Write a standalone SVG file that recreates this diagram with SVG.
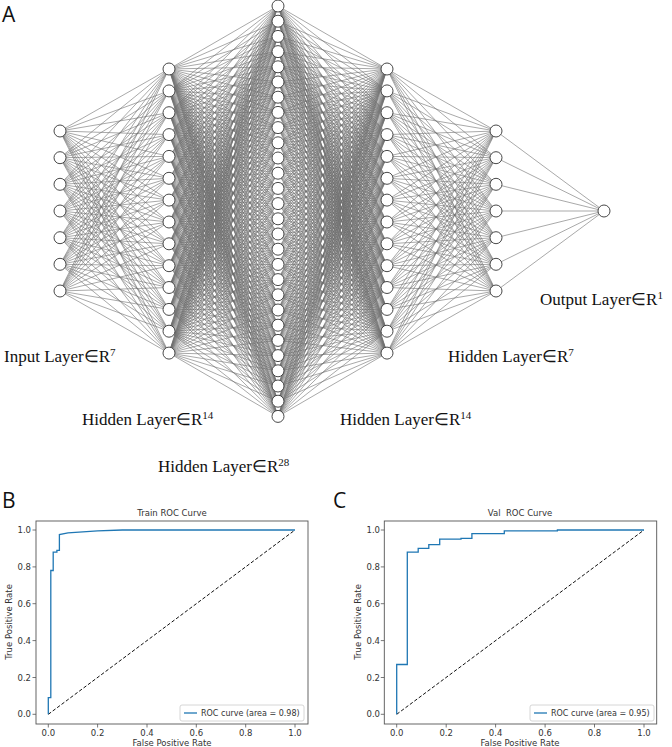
<svg xmlns="http://www.w3.org/2000/svg" xmlns:xlink="http://www.w3.org/1999/xlink" width="672" height="747" viewBox="0 0 672 747">
<style>
.e{fill:none;stroke:#6e6e6e;stroke-width:0.6;vector-effect:non-scaling-stroke}
.n circle{fill:#fff;stroke:#333;stroke-width:0.9}
.lbl{font-family:"Liberation Serif",serif;font-size:17px;fill:#111}
.sup{font-size:11px}
.pan{font-family:"Open Sans","DejaVu Sans",sans-serif;font-size:21px;fill:#111}
.ax{font-family:"DejaVu Sans",sans-serif;font-size:8.5px;fill:#333}
.lg{font-family:"DejaVu Sans",sans-serif;font-size:8px;fill:#333}
.frame{fill:none;stroke:#555;stroke-width:0.9}
.tk{stroke:#555;stroke-width:0.8}
.roc{fill:none;stroke:#1f77b4;stroke-width:1.3}
.diag{fill:none;stroke:#111;stroke-width:1;stroke-dasharray:3.5,2}
</style>
<defs>
<path id="fanA" class="e" d="M60 131L169 69M60 131L169 90.9M60 131L169 112.7M60 131L169 134.6M60 131L169 156.4M60 131L169 178.3M60 131L169 200.1M60 131L169 222M60 131L169 243.8M60 131L169 265.7M60 131L169 287.5M60 131L169 309.4M60 131L169 331.2M60 131L169 353.1"/>
<path id="fanB" class="e" d="M169 69L278 6M169 69L278 21.2M169 69L278 36.4M169 69L278 51.6M169 69L278 66.8M169 69L278 82M169 69L278 97.2M169 69L278 112.4M169 69L278 127.6M169 69L278 142.8M169 69L278 158M169 69L278 173.2M169 69L278 188.4M169 69L278 203.6M169 69L278 218.8M169 69L278 234M169 69L278 249.2M169 69L278 264.4M169 69L278 279.6M169 69L278 294.8M169 69L278 310M169 69L278 325.2M169 69L278 340.4M169 69L278 355.6M169 69L278 370.8M169 69L278 386M169 69L278 401.2M169 69L278 416.4"/>
</defs>
<g id="connectors">
<g id="leftHalf">
<use xlink:href="#fanA"/>
<use xlink:href="#fanA" transform="matrix(1,-0.24465,0,1,0,41.346)"/>
<use xlink:href="#fanA" transform="matrix(1,-0.4893,0,1,0,82.693)"/>
<use xlink:href="#fanA" transform="matrix(1,-0.73395,0,1,0,124.04)"/>
<use xlink:href="#fanA" transform="matrix(1,-0.9786,0,1,0,165.39)"/>
<use xlink:href="#fanA" transform="matrix(1,-1.22325,0,1,0,206.73)"/>
<use xlink:href="#fanA" transform="matrix(1,-1.4679,0,1,0,248.08)"/>
<use xlink:href="#fanB"/>
<use xlink:href="#fanB" transform="matrix(1,-0.20046,0,1,0,55.728)"/>
<use xlink:href="#fanB" transform="matrix(1,-0.40092,0,1,0,111.456)"/>
<use xlink:href="#fanB" transform="matrix(1,-0.60138,0,1,0,167.184)"/>
<use xlink:href="#fanB" transform="matrix(1,-0.80183,0,1,0,222.912)"/>
<use xlink:href="#fanB" transform="matrix(1,-1.00229,0,1,0,278.64)"/>
<use xlink:href="#fanB" transform="matrix(1,-1.20275,0,1,0,334.368)"/>
<use xlink:href="#fanB" transform="matrix(1,-1.40321,0,1,0,390.096)"/>
<use xlink:href="#fanB" transform="matrix(1,-1.60367,0,1,0,445.824)"/>
<use xlink:href="#fanB" transform="matrix(1,-1.80413,0,1,0,501.552)"/>
<use xlink:href="#fanB" transform="matrix(1,-2.00459,0,1,0,557.28)"/>
<use xlink:href="#fanB" transform="matrix(1,-2.20505,0,1,0,613.008)"/>
<use xlink:href="#fanB" transform="matrix(1,-2.40551,0,1,0,668.736)"/>
<use xlink:href="#fanB" transform="matrix(1,-2.60596,0,1,0,724.464)"/>
</g>
<use xlink:href="#leftHalf" transform="matrix(-1,0,0,1,556,0)"/>
<path class="e" d="M496 131L604 211M496 157.7L604 211M496 184.3L604 211M496 211L604 211M496 237.7L604 211M496 264.3L604 211M496 291L604 211"/>
</g>
<g id="input-layer" class="n">
<circle cx="60" cy="131" r="6"/><circle cx="60" cy="157.7" r="6"/><circle cx="60" cy="184.3" r="6"/><circle cx="60" cy="211" r="6"/><circle cx="60" cy="237.7" r="6"/><circle cx="60" cy="264.3" r="6"/><circle cx="60" cy="291" r="6"/>
</g>
<g id="hidden1" class="n">
<circle cx="169" cy="69" r="6"/><circle cx="169" cy="90.9" r="6"/><circle cx="169" cy="112.7" r="6"/><circle cx="169" cy="134.6" r="6"/><circle cx="169" cy="156.4" r="6"/><circle cx="169" cy="178.3" r="6"/><circle cx="169" cy="200.1" r="6"/><circle cx="169" cy="222" r="6"/><circle cx="169" cy="243.8" r="6"/><circle cx="169" cy="265.7" r="6"/><circle cx="169" cy="287.5" r="6"/><circle cx="169" cy="309.4" r="6"/><circle cx="169" cy="331.2" r="6"/><circle cx="169" cy="353.1" r="6"/>
</g>
<g id="hidden2" class="n">
<circle cx="278" cy="6" r="6"/><circle cx="278" cy="21.2" r="6"/><circle cx="278" cy="36.4" r="6"/><circle cx="278" cy="51.6" r="6"/><circle cx="278" cy="66.8" r="6"/><circle cx="278" cy="82" r="6"/><circle cx="278" cy="97.2" r="6"/><circle cx="278" cy="112.4" r="6"/><circle cx="278" cy="127.6" r="6"/><circle cx="278" cy="142.8" r="6"/><circle cx="278" cy="158" r="6"/><circle cx="278" cy="173.2" r="6"/><circle cx="278" cy="188.4" r="6"/><circle cx="278" cy="203.6" r="6"/><circle cx="278" cy="218.8" r="6"/><circle cx="278" cy="234" r="6"/><circle cx="278" cy="249.2" r="6"/><circle cx="278" cy="264.4" r="6"/><circle cx="278" cy="279.6" r="6"/><circle cx="278" cy="294.8" r="6"/><circle cx="278" cy="310" r="6"/><circle cx="278" cy="325.2" r="6"/><circle cx="278" cy="340.4" r="6"/><circle cx="278" cy="355.6" r="6"/><circle cx="278" cy="370.8" r="6"/><circle cx="278" cy="386" r="6"/><circle cx="278" cy="401.2" r="6"/><circle cx="278" cy="416.4" r="6"/>
</g>
<g id="hidden3" class="n">
<circle cx="387" cy="69" r="6"/><circle cx="387" cy="90.9" r="6"/><circle cx="387" cy="112.7" r="6"/><circle cx="387" cy="134.6" r="6"/><circle cx="387" cy="156.4" r="6"/><circle cx="387" cy="178.3" r="6"/><circle cx="387" cy="200.1" r="6"/><circle cx="387" cy="222" r="6"/><circle cx="387" cy="243.8" r="6"/><circle cx="387" cy="265.7" r="6"/><circle cx="387" cy="287.5" r="6"/><circle cx="387" cy="309.4" r="6"/><circle cx="387" cy="331.2" r="6"/><circle cx="387" cy="353.1" r="6"/>
</g>
<g id="hidden4" class="n">
<circle cx="496" cy="131" r="6"/><circle cx="496" cy="157.7" r="6"/><circle cx="496" cy="184.3" r="6"/><circle cx="496" cy="211" r="6"/><circle cx="496" cy="237.7" r="6"/><circle cx="496" cy="264.3" r="6"/><circle cx="496" cy="291" r="6"/>
</g>
<g id="output-layer" class="n"><circle cx="604" cy="211" r="6"/></g>
<g id="labels">
<text class="pan" x="2" y="22">A</text>
<text class="lbl" x="4" y="362">Input Layer∈R<tspan class="sup" dy="-6">7</tspan></text>
<text class="lbl" x="82" y="425">Hidden Layer∈R<tspan class="sup" dy="-6">14</tspan></text>
<text class="lbl" x="158" y="472">Hidden Layer∈R<tspan class="sup" dy="-6">28</tspan></text>
<text class="lbl" x="340" y="425">Hidden Layer∈R<tspan class="sup" dy="-6">14</tspan></text>
<text class="lbl" x="448" y="362">Hidden Layer∈R<tspan class="sup" dy="-6">7</tspan></text>
<text class="lbl" x="540" y="305">Output Layer∈R<tspan class="sup" dy="-6">1</tspan></text>
</g>
<g id="plotB">
<text class="pan" x="2" y="508">B</text>
<text class="ax" x="172" y="516" text-anchor="middle" font-size="9">Train ROC Curve</text>
<rect class="frame" x="36" y="521" width="272" height="203"/>
<path class="tk" d="M36 530h-3.5M36 566.9h-3.5M36 603.7h-3.5M36 640.6h-3.5M36 677.5h-3.5M36 714.3h-3.5M48.3 724v3.5M97.6 724v3.5M147 724v3.5M196.3 724v3.5M245.7 724v3.5M295 724v3.5"/>
<g class="ax" text-anchor="end">
<text x="31" y="533">1.0</text><text x="31" y="569.9">0.8</text><text x="31" y="606.7">0.6</text><text x="31" y="643.6">0.4</text><text x="31" y="680.5">0.2</text><text x="31" y="717.3">0.0</text>
</g>
<g class="ax" text-anchor="middle">
<text x="48.3" y="736">0.0</text><text x="97.6" y="736">0.2</text><text x="147" y="736">0.4</text><text x="196.3" y="736">0.6</text><text x="245.7" y="736">0.8</text><text x="295" y="736">1.0</text>
<text x="172" y="746">False Positive Rate</text>
<text transform="translate(12,622) rotate(-90)">True Positive Rate</text>
</g>
<path class="diag" d="M48.3 714.3L295 530"/>
<path class="roc" d="M48.3 714.3V697.7H50.8V570.5H53.2V552.1H56.9V550.3H59.4V534.6L68 532.8L97.6 530.9L122.3 530H295"/>
<rect x="180" y="705" width="124" height="16" rx="2" fill="#fff" stroke="#ccc" stroke-width="0.8"/>
<path class="roc" d="M184 713H197"/>
<text class="lg" x="201" y="716">ROC curve (area = 0.98)</text>
</g>
<g id="plotC">
<text class="pan" x="333" y="508">C</text>
<text class="ax" x="520" y="516" text-anchor="middle" font-size="9" xml:space="preserve">Val  ROC Curve</text>
<rect class="frame" x="384.3" y="521" width="272.4" height="203"/>
<path class="tk" d="M384.3 530h-3.5M384.3 566.9h-3.5M384.3 603.7h-3.5M384.3 640.6h-3.5M384.3 677.5h-3.5M384.3 714.3h-3.5M396.7 724v3.5M446.2 724v3.5M495.6 724v3.5M545.1 724v3.5M594.5 724v3.5M644 724v3.5"/>
<g class="ax" text-anchor="end">
<text x="380" y="533">1.0</text><text x="380" y="569.9">0.8</text><text x="380" y="606.7">0.6</text><text x="380" y="643.6">0.4</text><text x="380" y="680.5">0.2</text><text x="380" y="717.3">0.0</text>
</g>
<g class="ax" text-anchor="middle">
<text x="396.7" y="736">0.0</text><text x="446.2" y="736">0.2</text><text x="495.6" y="736">0.4</text><text x="545.1" y="736">0.6</text><text x="594.5" y="736">0.8</text><text x="644" y="736">1.0</text>
<text x="520" y="746">False Positive Rate</text>
<text transform="translate(361,622) rotate(-90)">True Positive Rate</text>
</g>
<path class="diag" d="M396.7 714.3L644 530"/>
<path class="roc" d="M396.7 714.3V664.5H407.3V552.1H418.2V548.4H428.8V544.7H439.7V539.2H461V538.3H471.9V533.7H504.3V530.9H557.4V530H644"/>
<rect x="530" y="705" width="124" height="16" rx="2" fill="#fff" stroke="#ccc" stroke-width="0.8"/>
<path class="roc" d="M534 713H547"/>
<text class="lg" x="551" y="716">ROC curve (area = 0.95)</text>
</g>
</svg>
